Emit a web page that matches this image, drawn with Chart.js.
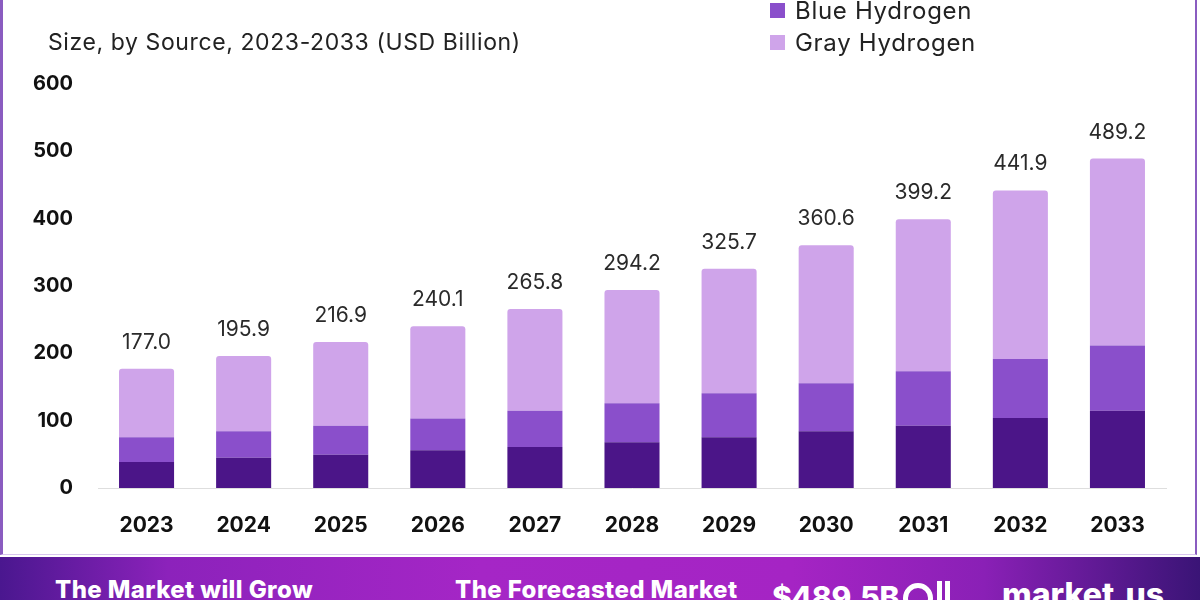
<!DOCTYPE html>
<html>
<head>
<meta charset="utf-8">
<script src="https://cdn.jsdelivr.net/npm/chart.js@4.4.1/dist/chart.umd.min.js"></script>
<style>
html, body { margin: 0; padding: 0; width: 1200px; height: 600px; overflow: hidden; background: #fff; font-family: Inter, "Open Sans", sans-serif; }
#card { position: absolute; left: 0; top: -4px; width: 1192px; height: 558px; border-left: 3px solid #8a5cc0; border-right: 2px solid #8a5cc0; border-bottom: 1px solid #d9c6ee; }
#chart { position: absolute; left: 0; top: 0; }
.subtitle { position: absolute; left: 48px; top: 28px; font-size: 23px; letter-spacing: 0.6px; color: #222; }
#legend { position: absolute; left: 770px; top: -38px; }
.leg-row { height: 32px; display: flex; align-items: center; font-size: 24px; letter-spacing: 0.7px; color: #222; }
.leg-box { width: 15px; height: 15px; margin-right: 10px; }
#banner { position: absolute; left: 0; top: 557px; width: 1200px; height: 43px; overflow: hidden;
  background: linear-gradient(90deg, #4a178f 0%, #8c22bb 14%, #a526c6 40%, #a524c4 66%, #8a20b6 82%, #3a1476 100%); color: #fff; }
.bn { position: absolute; font-weight: 800; white-space: nowrap; }
.ring { position: absolute; left: 903px; top: 26px; width: 20px; height: 20px; border: 5px solid #fff; border-radius: 50%; }
.bar { position: absolute; top: 24px; width: 5px; height: 30px; background: #fff; }
</style>
</head>
<body>
<div id="card"></div>
<canvas id="chart" width="1200" height="556"></canvas>
<div class="subtitle">Size, by Source, 2023-2033 (USD Billion)</div>
<div id="legend"></div>
<div id="banner">
  <div class="bn" style="left:55px; top:18px; font-size:24px; letter-spacing:0.4px;">The Market will Grow</div>
  <div class="bn" style="left:455px; top:18px; font-size:24px; letter-spacing:0.4px;">The Forecasted Market</div>
  <div class="bn" style="left:772px; top:22px; font-size:30px; letter-spacing:-0.3px;">$489.5B</div>
  <div class="ring"></div>
  <div class="bar" style="left:937px;"></div>
  <div class="bar" style="left:945px;"></div>
  <div class="bn" style="left:1002px; top:18px; font-size:32px;">market.us</div>
</div>
<script>
const years = ['2023', '2024', '2025', '2026', '2027', '2028', '2029', '2030', '2031', '2032', '2033'];
const greenHydrogen = [38.7, 45.1, 49.5, 55.9, 60.8, 68.1, 75.5, 84.3, 92.6, 104.0, 114.7];
const blueHydrogen = [36.8, 39.2, 43.1, 47.5, 53.9, 57.8, 65.2, 71.1, 80.9, 87.7, 97.1];
const grayHydrogen = [101.5, 111.6, 124.3, 136.7, 151.1, 168.3, 185.0, 205.2, 225.7, 250.2, 277.4];
const totals = [177.0, 195.9, 216.9, 240.1, 265.8, 294.2, 325.7, 360.6, 399.2, 441.9, 489.2];

const colors = {
    green: '#4b1588',
    blue: '#8a4fcb',
    gray: '#cfa4ea'
};

// totals written above each stack
const totalsPlugin = {
    id: 'totals',
    afterDatasetsDraw(chart) {
        const meta = chart.getDatasetMeta(chart.data.datasets.length - 1);
        const c = chart.ctx;
        c.save();
        c.font = '21px Inter';
        c.fillStyle = '#2a2a2a';
        c.textAlign = 'center';
        c.textBaseline = 'alphabetic';
        meta.data.forEach((bar, i) => {
            c.fillText(totals[i].toFixed(1), bar.x, bar.y - 20);
        });
        c.restore();
    }
};

const ctx = document.getElementById('chart').getContext('2d');

const chart = new Chart(ctx, {
    type: 'bar',
    data: {
        labels: years,
        datasets: [
            { label: 'Green Hydrogen', data: greenHydrogen, backgroundColor: colors.green },
            { label: 'Blue Hydrogen', data: blueHydrogen, backgroundColor: colors.blue },
            { label: 'Gray Hydrogen', data: grayHydrogen, backgroundColor: colors.gray,
              borderRadius: { topLeft: 3, topRight: 3 }, borderSkipped: false }
        ]
    },
    options: {
        responsive: false,
        animation: false,
        datasets: { bar: { barPercentage: 0.567, categoryPercentage: 1.0 } },
        layout: { padding: { top: 84, right: 34, left: 0, bottom: 0 } },
        scales: {
            x: {
                stacked: true,
                grid: { display: false, drawTicks: false },
                border: { color: '#dedede', width: 1 },
                ticks: { color: '#111', padding: 25, font: { family: 'Inter', size: 21, weight: 'bold' } },
                afterFit: (s) => { s.height = 68; }
            },
            y: {
                stacked: true,
                min: 0,
                max: 600,
                grid: { display: false, drawTicks: false },
                border: { display: false },
                ticks: { stepSize: 100, color: '#111', padding: 25, font: { family: 'Inter', size: 20, weight: 'bold' } },
                afterFit: (s) => { s.width = 98; }
            }
        },
        plugins: {
            legend: { display: false },
            tooltip: { enabled: false }
        }
    },
    plugins: [totalsPlugin]
});

// legend list built from the datasets (first row sits above the visible page, like the source)
const legendEl = document.getElementById('legend');
chart.data.datasets.forEach(ds => {
    const row = document.createElement('div');
    row.className = 'leg-row';
    row.innerHTML = '<span class="leg-box" style="background:' + ds.backgroundColor + '"></span>' + ds.label;
    legendEl.appendChild(row);
});
</script>
</body>
</html>
